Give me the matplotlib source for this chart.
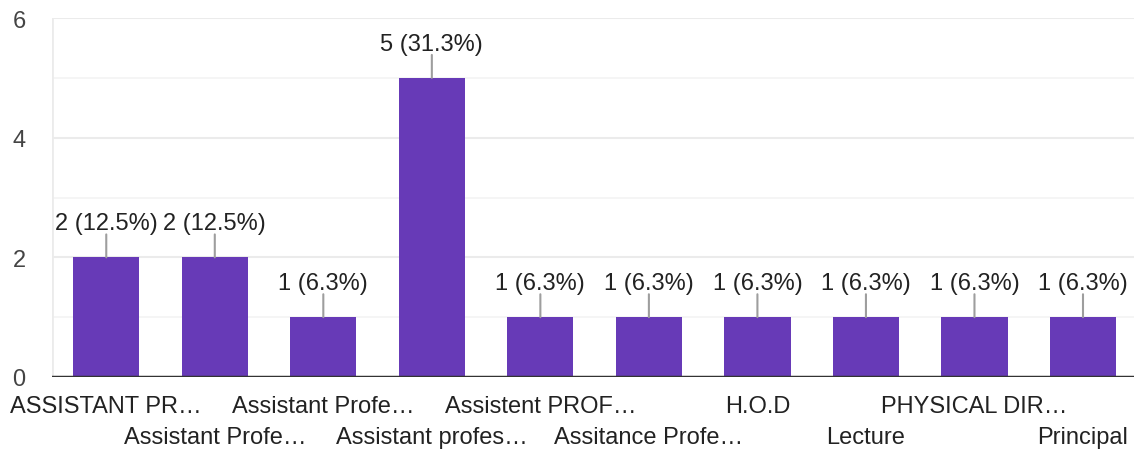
import numpy as np
import matplotlib.pyplot as plt

categories = ['ASSISTANT PR…', 'Assistant Profe…', 'Assistant Profe…', 'Assistant profes…',
              'Assistent PROF…', 'Assitance Profe…', 'H.O.D', 'Lecture',
              'PHYSICAL DIR…', 'Principal']
counts = [2, 2, 1, 5, 1, 1, 1, 1, 1, 1]
percents = ['12.5%', '12.5%', '6.3%', '31.3%', '6.3%', '6.3%', '6.3%', '6.3%', '6.3%', '6.3%']

plt.rcParams['font.family'] = ['Liberation Sans', 'DejaVu Sans']

fig = plt.figure(figsize=(11.34, 4.52), dpi=100)
ax = fig.add_axes([52 / 1134, 1 - 378 / 452, 1 - 52 / 1134, (378 - 19) / 452])

x = np.arange(len(categories))
ax.set_xlim(-0.5, 9.47)
ax.set_ylim(0, 6)

# grid lines
for y in [1, 3, 5]:
    ax.axhline(y, color='#f3f3f3', lw=1.2, zorder=0)
for y in [2, 4, 6]:
    ax.axhline(y, color='#ebebeb', lw=1.5, zorder=0)
ax.axvline(-0.5, color='#ebebeb', lw=2, zorder=0)

ax.bar(x, counts, width=0.61, color='#673ab7', zorder=2)
ax.axhline(0, color='#333333', lw=2.5, zorder=3)

# value labels with leader lines
for xi, c, p in zip(x, counts, percents):
    ax.annotate('', xy=(xi, c), xytext=(0, 16.5), textcoords='offset points',
                arrowprops=dict(arrowstyle='-', color='#9e9e9e', lw=1.5,
                                shrinkA=0, shrinkB=0), zorder=3)
    ax.annotate(f'{c} ({p})', xy=(xi, c), xytext=(0, 24.5), textcoords='offset points',
                ha='center', va='center', fontsize=17, color='#222222')

for s in ax.spines.values():
    s.set_visible(False)

ax.set_yticks([0, 2, 4, 6])
ax.tick_params(axis='y', length=0, labelsize=17, labelcolor='#444444', pad=19)
ax.set_xticks(x)
ax.set_xticklabels([])
ax.tick_params(axis='x', length=0)

for xi, lab in zip(x, categories):
    off = 21 if xi % 2 == 0 else 43.5
    ax.annotate(lab, xy=(xi, 0), xytext=(0, -off), textcoords='offset points',
                ha='center', va='center', fontsize=17, color='#222222',
                annotation_clip=False)

fig.savefig('out.png', dpi=100)
